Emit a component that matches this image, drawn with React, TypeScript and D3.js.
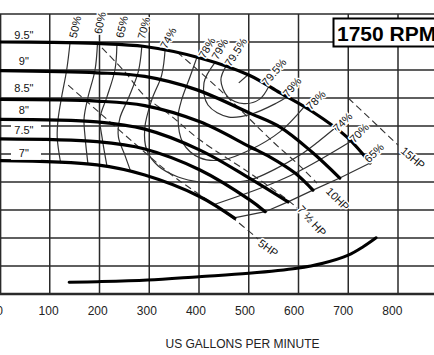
import React from 'react';
import * as d3 from 'd3';

const W = 434;
const H = 355;

// axes
const gpmTicks = [0, 100, 200, 300, 400, 500, 600, 700, 800];
const gpmGrid = [0, 100, 200, 300, 400, 500, 600, 700, 800, 900];
const headGrid = [0, 10, 20, 30, 40, 50, 60, 70, 80, 90, 100];
const xTitle = 'US GALLONS PER MINUTE';
const rpmTitle = '1750 RPM';

// impeller curves [gpm, head ft]
const impellerNames = ['9.5"', '9"', '8.5"', '8"', '7.5"', '7"'];
const imp95 = [[0, 90], [100, 89.9], [195, 89.5], [291, 88.4], [402, 84.3], [500, 78.2], [563, 71.8], [629, 65], [697, 56.1], [744, 46.8]];
const imp9 = [[0, 79.75], [195, 79.0], [291, 77.7], [396, 72.9], [502, 64.6], [563, 59.6], [627, 50.7], [683, 41.4]];
const imp85 = [[0, 69.5], [195, 68.9], [291, 67.3], [402, 61.5], [502, 52.6], [543, 48.9], [593, 43.2], [629, 37.1]];
const imp8 = [[0, 62.4], [195, 61.5], [291, 58.9], [402, 51.4], [502, 41.3], [579, 32.9]];
const imp75 = [[0, 55.4], [195, 54.4], [291, 51.8], [402, 44.3], [502, 33.6], [533, 29.4]];
const imp7 = [[0, 47.6], [195, 46.1], [291, 42.5], [402, 34.75], [472, 27.0]];
const impellerLabelHead = [92.5, 83.2, 73.6, 65.7, 58.6, 50.4];

// efficiency contours
const eff50 = [[141, 90.1], [134, 80], [124, 70.5], [117, 62.8], [115, 56], [122, 46.7]];
const eff60 = [[196, 89.6], [191, 80], [177, 70.4], [169, 62.8], [171, 56.1], [177, 46.1]];
const eff65 = [[235, 89], [231, 80], [215, 70.4], [201, 62.8], [205, 56.1], [215, 45.7]];
const eff70 = [[285, 88.3], [278, 79.4], [258, 69.9], [241, 62.8], [238, 56.1], [251, 49.6], [263, 43.6]];
const eff74 = [[332, 87.5], [325, 78.2], [305, 69.3], [291, 59.3], [295, 51.4], [318, 45.7], [358, 41.8], [402, 40], [452, 39.8], [502, 40.7], [553, 44.6], [603, 49.6], [639, 54.3], [671, 58.9]];
const eff78 = [[396, 84.6], [382, 77.6], [365, 69.3], [358, 63.2], [368, 53.9], [402, 48.6], [448, 47.9], [502, 51.4], [563, 58], [610, 66.6]];
const eff79 = [[432, 82.6], [410, 75.4], [418, 67.5], [460, 63.2], [506, 64.3], [556, 68.2], [580, 70.7]];
const eff795 = [[454, 81.3], [444, 76.4], [458, 70.4], [490, 68], [522, 69.6], [540, 74]];
const eff70r = [[428, 31.8], [573, 41.4], [704, 54.4]];
const eff65r = [[468, 27.1], [533, 29.4], [579, 32.9], [629, 37.1], [683, 41.4], [744, 46.8]];
const bepTick = [[480, 75.4], [498, 78.2]];

const effTopLabels = ['50%', '60%', '65%', '70%', '74%', '78%', '79%', '79.5%'];
const effTopAt = [[151, 95.4], [201, 96.8], [245, 95.4], [289, 95], [338, 91.4], [416, 87.9], [442, 87.5], [474, 86.4]];
const effRightLabels = ['79.5%', '79%', '78%', '74%', '70%', '65%'];
const effRightAt = [[551, 79.3], [587, 73.9], [635, 69.3], [689, 61.4], [722, 57.5], [752, 50.4]];

// horsepower lines
const hp5 = [[137, 74.6], [201, 64.6], [295, 50], [348, 42.1], [402, 35.4], [468, 27.1], [519, 19.6]];
const hp75 = [[205, 87.9], [251, 79.3], [291, 70.7], [342, 63.9], [402, 55], [502, 43.2], [583, 32.9], [597, 30.7]];
const hp10 = [[356, 86.4], [442, 72.9], [549, 54.3], [603, 45.7], [637, 39.6]];
const hp15 = [[700, 70], [800, 53.2]];
const hpLabels = ['15HP', '10HP', '7 ½ HP', '5HP'];
const hpLabelAt = [[830, 48.6], [679, 33.9], [627, 26.1], [539, 16.4]];

// NPSH curve
const npsh = [[139, 4.2], [196, 4.4], [297, 5.0], [400, 6.2], [500, 7.4], [597, 9.2], [649, 11.0], [700, 13.9], [730, 16.9], [756, 20.1]];

export default function App() {
  const x = d3.scaleLinear().domain([0, 800]).range([0, 398]);
  const y = d3.scaleLinear().domain([0, 100]).range([294, 14]);
  const smooth = d3.line<number[]>().x(d => x(d[0])).y(d => y(d[1])).curve(d3.curveCatmullRom.alpha(0.5));
  const straight = d3.line<number[]>().x(d => x(d[0])).y(d => y(d[1]));

  const impellers = [imp95, imp9, imp85, imp8, imp75, imp7];
  const effCurves = [eff50, eff60, eff65, eff70, eff74, eff78, eff79, eff795, eff70r];
  const hpCurves = [hp5, hp75, hp10, hp15];
  const topAngles = [-78, -78, -78, -75, -62, -60, -60, -57];
  const rightAngles = [-50, -50, -45, -45, -45, -45];
  const hpAngles = [40, 45, 48, 35];
  const font = "'Liberation Sans', Arial, Helvetica, sans-serif";
  const gridColor = '#2a2a2a';

  const rotText = (txt: string, p: number[], a: number, key: string) => (
    <text key={key} transform={`translate(${x(p[0])},${y(p[1])}) rotate(${a})`} textAnchor="middle" dy="0.35em"
      fontSize={11} fill="#111" stroke="#fff" strokeWidth={3} paintOrder="stroke" strokeLinejoin="round">{txt}</text>
  );

  return (
    <svg width={W} height={H} style={{ position: 'absolute', left: 0, top: 0 }} fontFamily={font}>
      <rect width={W} height={H} fill="#fff" />
      {/* grid */}
      {gpmGrid.map(v => (
        <line key={'gv' + v} x1={x(v) + (v === 0 ? 0.6 : 0)} x2={x(v) + (v === 0 ? 0.6 : 0)} y1={y(100)} y2={y(0)} stroke={gridColor} strokeWidth={1.5} />
      ))}
      {headGrid.map(v => (
        <line key={'gh' + v} x1={0} x2={W} y1={y(v)} y2={y(v)} stroke={gridColor} strokeWidth={v === 0 ? 2.6 : 1.5} />
      ))}
      {/* efficiency contours */}
      {effCurves.map((c, i) => (
        <path key={'e' + i} d={smooth(c) || ''} fill="none" stroke="#333" strokeWidth={1.2} />
      ))}
      <path d={straight(eff65r) || ''} fill="none" stroke="#333" strokeWidth={1.2} />
      <path d={straight(bepTick) || ''} fill="none" stroke="#333" strokeWidth={1.2} />
      {/* horsepower lines */}
      {hpCurves.map((c, i) => (
        <path key={'h' + i} d={smooth(c) || ''} fill="none" stroke="#333" strokeWidth={1.1} strokeDasharray="7,4" />
      ))}
      {/* impeller curves */}
      {impellers.map((c, i) => (
        <path key={'i' + i} d={smooth(c) || ''} fill="none" stroke="#000" strokeWidth={3.2} strokeLinecap="round" />
      ))}
      <path d={smooth(npsh) || ''} fill="none" stroke="#000" strokeWidth={3} strokeLinecap="round" />
      {/* impeller labels */}
      {impellerNames.map((n, i) => (
        <g key={'il' + i}>
          {i >= 4 && <rect x={11} y={y(impellerLabelHead[i]) - 7} width={30} height={14} fill="#fff" />}
          <text x={x(48)} y={y(impellerLabelHead[i])} dy="0.35em" textAnchor="middle" fontSize={11} fill="#111">{n}</text>
        </g>
      ))}
      {/* efficiency labels */}
      {effTopLabels.map((t, i) => rotText(t, effTopAt[i], topAngles[i], 'et' + i))}
      {effRightLabels.map((t, i) => rotText(t, effRightAt[i], rightAngles[i], 'er' + i))}
      {hpLabels.map((t, i) => rotText(t, hpLabelAt[i], hpAngles[i], 'hl' + i))}
      {/* title box */}
      <rect x={333.5} y={18.5} width={120} height={28} fill="#fff" stroke="#000" strokeWidth={2} />
      <text x={337} y={41} fontSize={21} fontWeight="bold" fill="#000">{rpmTitle}</text>
      {/* x tick labels */}
      {gpmTicks.map(v => (
        <text key={'t' + v} x={x(v) * 0.987 - 0.5} y={315} textAnchor="middle" fontSize={12} fill="#222">{v}</text>
      ))}
      <text x={242.5} y={348} textAnchor="middle" fontSize={12} fill="#222">{xTitle}</text>
    </svg>
  );
}
